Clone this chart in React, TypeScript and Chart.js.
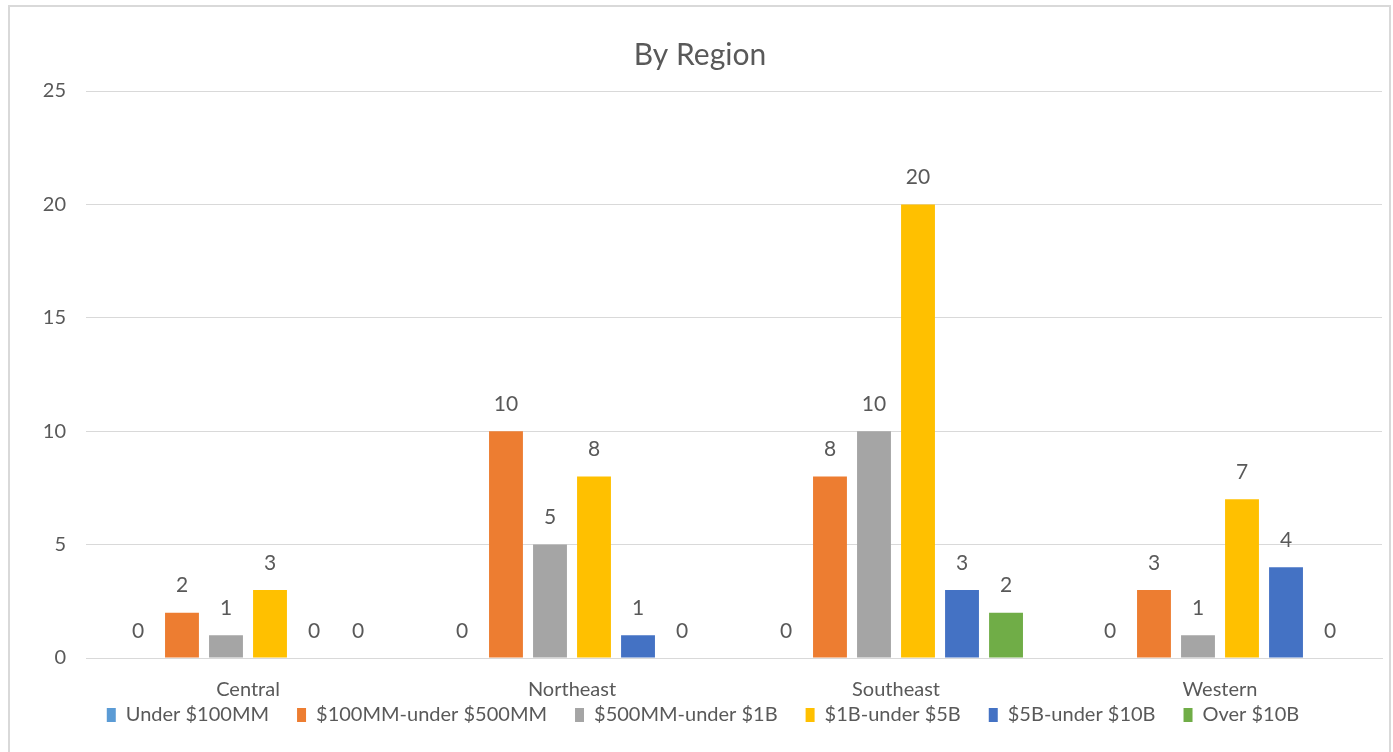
import React, { useEffect, useRef } from "react";
import { Chart, registerables } from "chart.js";

Chart.register(...registerables);

const categories = ["Central", "Northeast", "Southeast", "Western"];
const seriesNames = [
  "Under $100MM",
  "$100MM-under $500MM",
  "$500MM-under $1B",
  "$1B-under $5B",
  "$5B-under $10B",
  "Over $10B",
];
const under100MM = [0, 0, 0, 0];
const from100MMto500MM = [2, 10, 8, 3];
const from500MMto1B = [1, 5, 10, 1];
const from1Bto5B = [3, 8, 20, 7];
const from5Bto10B = [0, 1, 3, 4];
const over10B = [0, 0, 2, 0];
const seriesValues = [under100MM, from100MMto500MM, from500MMto1B, from1Bto5B, from5Bto10B, over10B];
const seriesColors = ["#5B9BD5", "#ED7D31", "#A5A5A5", "#FFC000", "#4472C4", "#70AD47"];
const yTicks = [0, 5, 10, 15, 20, 25];

const FONT = "Lato, 'Open Sans', sans-serif";
const TEXT = "#595959";

const dataLabels = {
  id: "dataLabels",
  afterDatasetsDraw(chart: any) {
    const ctx = chart.ctx;
    ctx.save();
    ctx.font = `21px ${FONT}`;
    ctx.fillStyle = TEXT;
    ctx.textAlign = "center";
    ctx.textBaseline = "middle";
    chart.data.datasets.forEach((ds: any, i: number) => {
      const meta = chart.getDatasetMeta(i);
      meta.data.forEach((el: any, j: number) => {
        ctx.fillText(String(ds.data[j]), el.x, el.y - 27);
      });
    });
    ctx.restore();
  },
};

// Pull the legend row up closer to the category labels, and centre title/legend as in the original.
const boxShift = {
  id: "boxShift",
  beforeDraw(chart: any) {
    const lg = chart.legend;
    if (lg) {
      lg.top -= 25;
      lg.bottom -= 25;
      lg.left += 12;
      lg.right += 12;
    }
    const tb = chart.titleBlock;
    if (tb) {
      tb.left += 9;
      tb.right += 9;
    }
  },
};

export default function App() {
  const ref = useRef<HTMLCanvasElement>(null);
  useEffect(() => {
    if (!ref.current) return;
    const chart = new Chart(ref.current, {
      type: "bar",
      data: {
        labels: categories,
        datasets: seriesNames.map((name, i) => ({
          label: name,
          data: seriesValues[i],
          backgroundColor: seriesColors[i],
          borderWidth: 0,
          categoryPercentage: 0.815,
          barPercentage: 0.77,
        })),
      },
      options: {
        responsive: false,
        animation: false,
        devicePixelRatio: 1,
        layout: { padding: { top: 0, right: 11, bottom: -8, left: 0 } },
        plugins: {
          title: {
            display: true,
            text: "By Region",
            color: TEXT,
            font: { family: FONT, size: 30, weight: "normal" },
            padding: { top: 37, bottom: 18 },
          },
          legend: {
            position: "bottom",
            labels: {
              color: TEXT,
              font: { family: FONT, size: 20 },
              boxWidth: 9,
              boxHeight: 14,
              padding: 28,
            },
          },
          tooltip: { enabled: false },
        },
        scales: {
          x: {
            grid: { display: false, drawTicks: false },
            border: { color: "#d9d9d9", width: 1 },
            ticks: { color: TEXT, font: { family: FONT, size: 20 }, padding: 20 },
            afterFit: (s: any) => {
              s.height = 44;
            },
          },
          y: {
            min: 0,
            max: 25,
            afterFit: (s: any) => {
              s.width = 86;
            },
            afterBuildTicks: (s: any) => {
              s.ticks = yTicks.map((v) => ({ value: v }));
            },
            grid: { color: "#d9d9d9", drawTicks: false },
            border: { display: false },
            ticks: { color: TEXT, font: { family: FONT, size: 20 }, padding: 20 },
          },
        },
      },
      plugins: [dataLabels, boxShift],
    });
    return () => chart.destroy();
  }, []);
  return (
    <div style={{ position: "fixed", left: 0, top: 0, width: 1393, height: 752, overflow: "hidden", background: "#fff" }}>
      <canvas ref={ref} width={1393} height={752} style={{ position: "absolute", left: 0, top: 0 }} />
      <div
        style={{
          position: "absolute",
          left: 8,
          top: 5,
          width: 1383,
          height: 800,
          boxSizing: "border-box",
          border: "2px solid #d9d9d9",
          pointerEvents: "none",
        }}
      />
    </div>
  );
}
